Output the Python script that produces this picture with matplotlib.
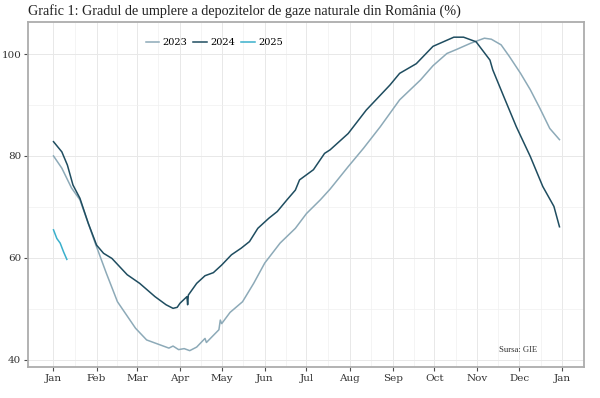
import matplotlib.pyplot as plt

# day of year (0 = 1 Jan) and storage fill level (%)
days_2023 = [0, 6, 13, 19, 30, 38, 46, 59, 67, 77, 83, 86, 90, 94, 98, 103, 109, 110,
             119, 120, 121, 127, 136, 144, 152, 163, 174, 182, 192, 199, 212, 223, 235,
             249, 264, 273, 283, 290, 300, 310, 315, 322, 328, 336, 343, 350, 357, 364]
fill_2023 = [80.0, 77.6, 73.7, 71.4, 62.9, 57.0, 51.4, 46.2, 43.9, 42.9, 42.3, 42.7, 42.0,
             42.2, 41.8, 42.5, 44.2, 43.4, 45.9, 47.8, 47.1, 49.3, 51.4, 55.0, 59.0, 62.9,
             65.8, 68.7, 71.4, 73.5, 77.9, 81.5, 85.7, 91.0, 94.9, 97.7, 100.1, 100.9,
             102.1, 103.1, 102.9, 101.8, 99.5, 96.2, 93.0, 89.3, 85.4, 83.2]

days_2024 = [0, 6, 10, 14, 19, 25, 31, 36, 42, 53, 62, 73, 81, 86, 89, 91, 96, 96.5, 97,
             103, 109, 115, 121, 128, 135, 141, 147, 155, 161, 168, 174, 177, 187, 195,
             199, 212, 225, 242, 249, 261, 273, 288, 295, 304, 314, 316, 324, 333, 343,
             352, 360, 364]
fill_2024 = [82.8, 80.8, 78.2, 74.3, 71.7, 66.8, 62.5, 60.9, 59.9, 56.7, 55.0, 52.4, 50.8,
             50.1, 50.3, 51.1, 52.4, 50.8, 52.7, 55.0, 56.5, 57.1, 58.6, 60.6, 61.9, 63.2,
             65.8, 67.8, 69.1, 71.4, 73.3, 75.3, 77.3, 80.5, 81.2, 84.4, 89.0, 93.9, 96.2,
             98.1, 101.5, 103.3, 103.3, 102.4, 98.8, 96.9, 91.6, 85.7, 79.9, 74.0, 70.1, 66.1]

days_2025 = [0, 2.4, 4.8, 7.2, 9.6]
fill_2025 = [65.5, 63.8, 62.9, 61.2, 59.7]

month_days = [0, 31, 60, 91, 121, 152, 182, 213, 244, 274, 305, 335, 366]
month_labels = ['Jan', 'Feb', 'Mar', 'Apr', 'May', 'Jun', 'Jul', 'Aug', 'Sep', 'Oct',
                'Nov', 'Dec', 'Jan']

plt.rcParams['font.family'] = ['DejaVu Serif']

fig = plt.figure(figsize=(6, 3.98), dpi=100)
ax = fig.add_axes([0.047, 0.078, 0.926, 0.867])

ax.plot(days_2023, fill_2023, color='#8daab8', lw=1.1, label='2023')
ax.plot(days_2024, fill_2024, color='#1f4d60', lw=1.1, label='2024')
ax.plot(days_2025, fill_2025, color='#3ab0cc', lw=1.1, label='2025')

ax.set_xlim(-18.2, 381.5)
ax.set_ylim(38.6, 106.3)
ax.set_xticks(month_days)
ax.set_xticklabels(month_labels)
ax.set_xticks([(a + b) / 2 for a, b in zip(month_days[:-1], month_days[1:])], minor=True)
ax.set_yticks([40, 60, 80, 100])
ax.set_yticks([50, 70, 90], minor=True)
ax.grid(which='major', color='#e8e8e8', lw=0.7)
ax.grid(which='minor', color='#f0f0f0', lw=0.5)
ax.set_axisbelow(True)
ax.tick_params(which='major', length=3, color='#4d4d4d', labelsize=7.5,
               labelcolor='#333333', pad=2)
ax.tick_params(which='minor', length=0)
for s in ax.spines.values():
    s.set_color('#adadad')
    s.set_linewidth(1.3)

ax.legend(loc='center', bbox_to_anchor=(0.335, 0.939), ncol=3, frameon=False,
          fontsize=7, handlelength=1.4, handletextpad=0.35, columnspacing=0.6)

ax.text(0.881, 0.049, 'Sursa: GIE', transform=ax.transAxes, ha='center', va='center',
        fontsize=6.2, color='#333333', family='Liberation Serif')

fig.text(0.047, 0.99, 'Grafic 1: Gradul de umplere a depozitelor de gaze naturale din România (%)',
         ha='left', va='top', fontsize=10.2, color='#222222', family='Liberation Serif')

fig.savefig('out.png', dpi=100)
